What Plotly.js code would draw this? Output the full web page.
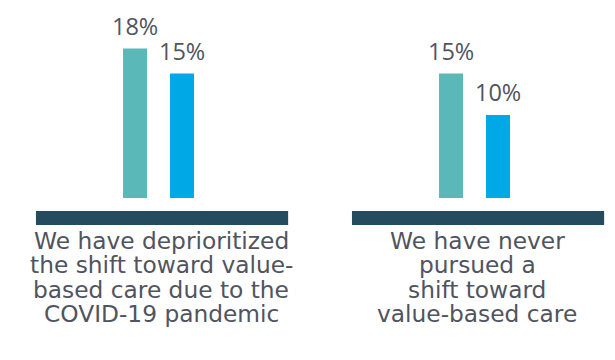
<!DOCTYPE html>
<html>
<head>
<meta charset="utf-8">
<script src="https://cdn.plot.ly/plotly-3.0.1.min.js"></script>
<style>
  html, body { margin: 0; padding: 0; background: #ffffff; }
  #chart { width: 615px; height: 360px; }
</style>
</head>
<body>
<div id="chart"></div>
<script>
// ---- Data ----
const categories = [
  "We have deprioritized<br>the shift toward value-<br>based care due to the<br>COVID-19 pandemic",
  "We have never<br>pursued a<br>shift toward<br>value-based care"
];
const seriesNames = ["Series 1", "Series 2"];
const series1 = [18, 15];
const series2 = [15, 10];

// ---- Styles ----
const colors = ["#5BB8B9", "#00A8E6"];
const baseColor = "#244B5E";
const textColor = "#50545E";
const valueFont = "'Open Sans', sans-serif";
const labelFont = "'DejaVu Sans', sans-serif";

const xIdx = categories.map((_, i) => i);
const barWidth = 0.076;
const offsets = [-0.1115, 0.0372];
const allSeries = [series1, series2];

const traces = allSeries.map((vals, s) => ({
  type: "bar",
  name: seriesNames[s],
  x: xIdx,
  y: vals,
  width: barWidth,
  offset: offsets[s],
  marker: { color: colors[s], line: { width: 0 } },
  hoverinfo: "skip"
}));

const annotations = [];
// value labels
allSeries.forEach((vals, s) => {
  vals.forEach((v, i) => {
    annotations.push({
      x: i + offsets[s] + barWidth / 2,
      y: v,
      xref: "x", yref: "y",
      text: v + "%",
      showarrow: false,
      xanchor: "center", yanchor: "bottom",
      yshift: 5,
      font: { family: valueFont, size: 23.5, color: textColor }
    });
  });
});
// category labels (one annotation per line for tight line spacing)
const lineStart = 42, lineStep = 24.5;
categories.forEach((c, i) => {
  c.split("<br>").forEach((line, j) => {
    annotations.push({
      x: i + 0.01,
      y: 0,
      xref: "x", yref: "y",
      text: line,
      showarrow: false,
      xanchor: "center", yanchor: "middle",
      yshift: -(lineStart + lineStep * j),
      font: { family: labelFont, size: 23.3, color: textColor }
    });
  });
});

// baseline slabs under each group
const shapes = xIdx.map(i => ({
  type: "rect",
  xref: "x", yref: "y",
  x0: i - 0.387, x1: i + 0.411,
  y0: -1.566, y1: -3.253,
  fillcolor: baseColor,
  line: { width: 0 },
  layer: "below"
}));

const layout = {
  width: 615,
  height: 360,
  margin: { l: 0, r: 0, t: 0, b: 0 },
  paper_bgcolor: "#ffffff",
  plot_bgcolor: "#ffffff",
  showlegend: false,
  barmode: "overlay",
  xaxis: {
    range: [-0.5008, 1.4454],
    showgrid: false, zeroline: false, showline: false,
    showticklabels: false, ticks: ""
  },
  yaxis: {
    range: [-19.518, 23.855],
    showgrid: false, zeroline: false, showline: false,
    showticklabels: false, ticks: ""
  },
  annotations: annotations,
  shapes: shapes
};

Plotly.newPlot("chart", traces, layout, { displayModeBar: false, staticPlot: true });
</script>
</body>
</html>
